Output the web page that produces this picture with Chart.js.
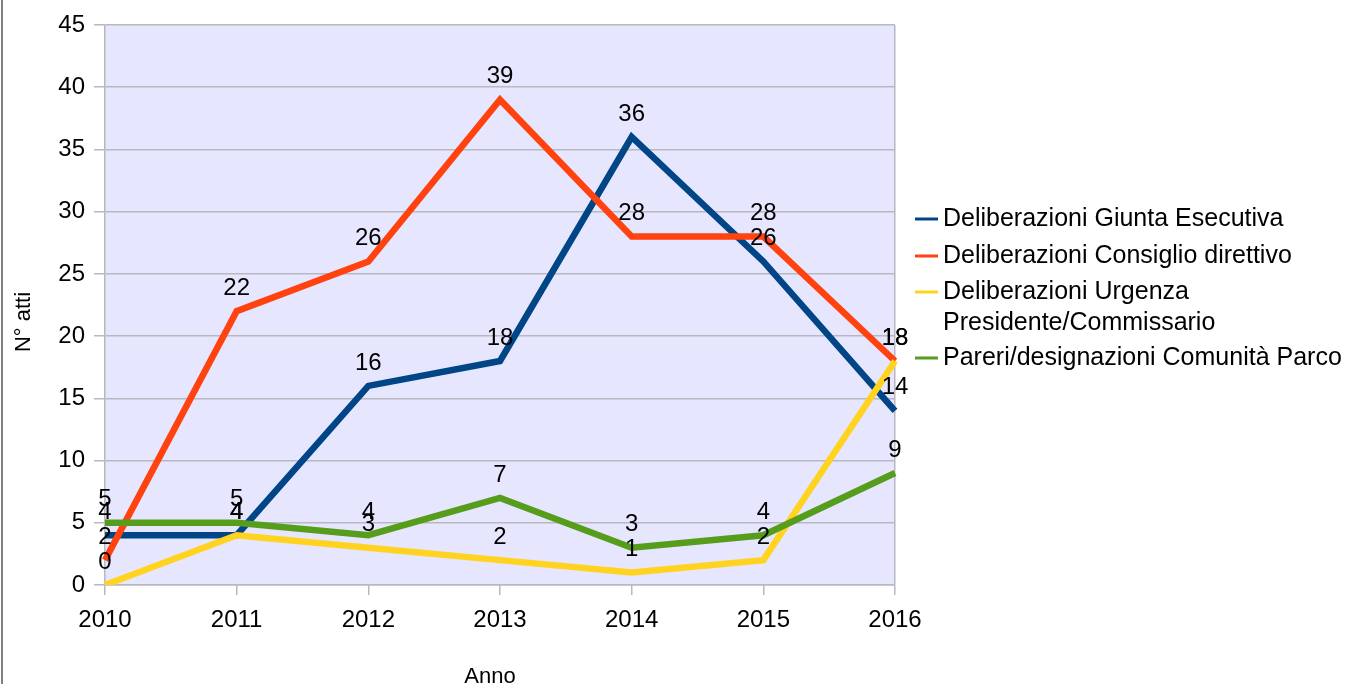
<!DOCTYPE html>
<html>
<head>
<meta charset="utf-8">
<script src="https://cdn.jsdelivr.net/npm/chart.js@4/dist/chart.umd.min.js"></script>
<style>
  html, body { margin: 0; padding: 0; background: #fff; }
  #wrap { position: relative; width: 1351px; height: 684px; }
  #edge { position: absolute; left: 1px; top: 0; width: 2px; height: 684px; background: #7f7f7f; }
</style>
</head>
<body>
<div id="wrap">
  <canvas id="chart" width="1351" height="684"></canvas>
  <div id="edge"></div>
</div>
<script>
// ── Data ─────────────────────────────────────
const years     = ['2010', '2011', '2012', '2013', '2014', '2015', '2016'];
const giunta    = [4, 4, 16, 18, 36, 26, 14];
const consiglio = [2, 22, 26, 39, 28, 28, 18];
const urgenza   = [0, 4, 3, 2, 1, 2, 18];
const pareri    = [5, 5, 4, 7, 3, 4, 9];
const seriesNames = [
  ['Deliberazioni Giunta Esecutiva'],
  ['Deliberazioni Consiglio direttivo'],
  ['Deliberazioni Urgenza', 'Presidente/Commissario'],
  ['Pareri/designazioni Comunità Parco'],
];
const colors = ['#004586', '#ff420e', '#ffd320', '#579d1c'];
const xTitle = 'Anno';
const yTitle = 'N° atti';

const FONT = '"Liberation Sans", Arial, sans-serif';
const GRID = '#b8b8c0';

// ── Plugins ──────────────────────────────────

// lavender plot background
const plotBg = {
  id: 'plotBg',
  beforeDraw(chart) {
    const { ctx, chartArea: a } = chart;
    ctx.save();
    ctx.fillStyle = '#e6e6ff';
    ctx.fillRect(a.left, a.top, a.right - a.left, a.bottom - a.top);
    ctx.restore();
  },
};

// value labels above every point
const valueLabels = {
  id: 'valueLabels',
  afterDatasetsDraw(chart) {
    const { ctx } = chart;
    ctx.save();
    ctx.font = '24px ' + FONT;
    ctx.fillStyle = '#000';
    ctx.textAlign = 'center';
    ctx.textBaseline = 'middle';
    chart.data.datasets.forEach((ds, i) => {
      chart.getDatasetMeta(i).data.forEach((pt, j) => {
        ctx.fillText(String(ds.data[j]), pt.x, pt.y - 23);
      });
    });
    ctx.restore();
  },
};

// axis titles (slightly off-centre, as in the original)
const axisTitles = {
  id: 'axisTitles',
  afterDraw(chart) {
    const { ctx } = chart;
    ctx.save();
    ctx.font = '22px ' + FONT;
    ctx.fillStyle = '#000';
    ctx.textAlign = 'center';
    ctx.textBaseline = 'alphabetic';
    ctx.fillText(xTitle, 490, 683);
    ctx.translate(30, 322);
    ctx.rotate(-Math.PI / 2);
    ctx.fillText(yTitle, 0, 0);
    ctx.restore();
  },
};

// legend on the right, with a wrapped entry
const sideLegend = {
  id: 'sideLegend',
  afterDraw(chart) {
    const { ctx } = chart;
    const x0 = 915, tx = 943;
    const rows = [219, 256, 292, 358];
    ctx.save();
    ctx.font = '25px ' + FONT;
    ctx.textAlign = 'left';
    ctx.textBaseline = 'middle';
    seriesNames.forEach((lines, i) => {
      const y = rows[i];
      ctx.strokeStyle = colors[i];
      ctx.lineWidth = 3;
      ctx.beginPath();
      ctx.moveTo(x0, y);
      ctx.lineTo(x0 + 23, y);
      ctx.stroke();
      ctx.fillStyle = '#000';
      lines.forEach((t, k) => ctx.fillText(t, tx, y + k * 31));
    });
    ctx.restore();
  },
};

// ── Chart ────────────────────────────────────

const datasets = [giunta, consiglio, urgenza, pareri].map((d, i) => ({
  label: seriesNames[i].join(' '),
  data: d,
  borderColor: colors[i],
  backgroundColor: colors[i],
  borderWidth: 6.5,
  pointRadius: 0,
  tension: 0,
  order: 4 - i,
}));

new Chart(document.getElementById('chart'), {
  type: 'line',
  data: { labels: years, datasets },
  plugins: [plotBg, valueLabels, axisTitles, sideLegend],
  options: {
    responsive: false,
    animation: false,
    layout: { padding: { left: 0, right: 456, top: 25, bottom: 0 } },
    plugins: { legend: { display: false }, tooltip: { enabled: false } },
    scales: {
      x: {
        offset: false,
        afterFit(s) { s.height = 99; },
        grid: {
          drawOnChartArea: true,
          color: (c) => (c.index === years.length - 1 ? GRID : 'transparent'),
          tickColor: GRID,
          tickLength: 10,
          lineWidth: 1.5,
        },
        border: { color: GRID, width: 1.5 },
        ticks: { color: '#000', font: { family: FONT, size: 24 }, padding: 11, maxRotation: 0 },
      },
      y: {
        min: 0, max: 45,
        afterFit(s) { s.width = 105; },
        grid: { color: GRID, tickColor: GRID, tickLength: 11, lineWidth: 1.5 },
        border: { color: GRID, width: 1.5 },
        ticks: { stepSize: 5, color: '#000', font: { family: FONT, size: 24 }, padding: 9 },
      },
    },
  },
});
</script>
</body>
</html>
